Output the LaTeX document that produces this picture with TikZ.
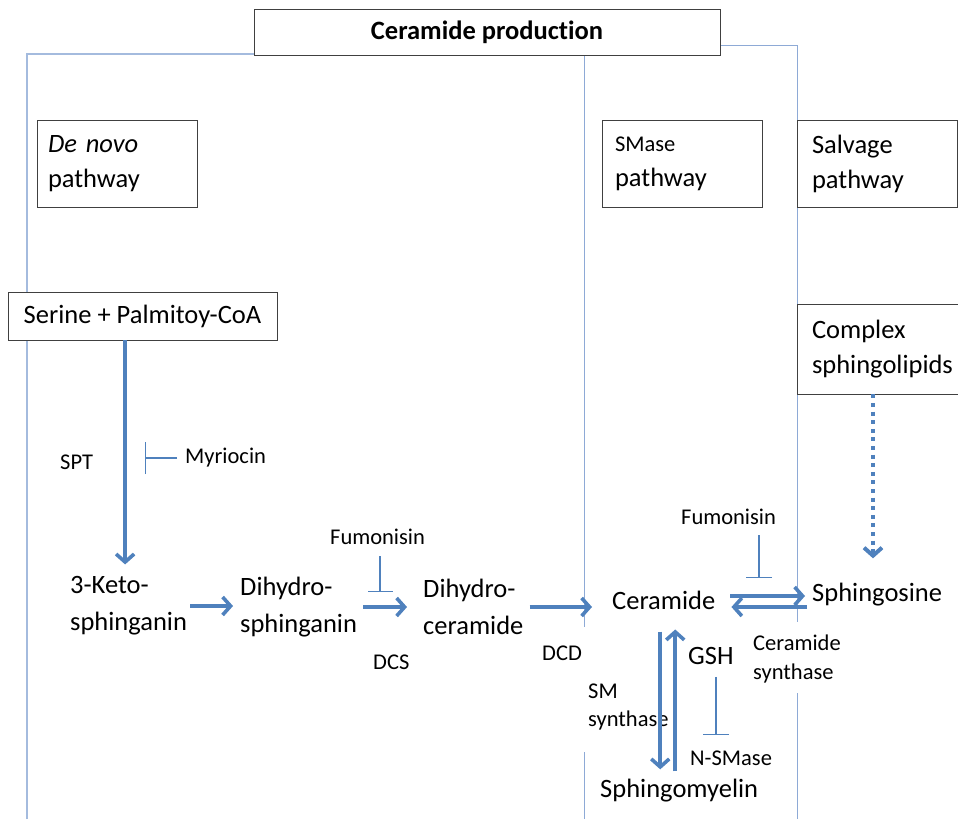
\documentclass[tikz,border=0pt]{standalone}
\usepackage{fontspec}
\setmainfont{Carlito}[Ligatures=NoCommon]
\definecolor{PathBlue}{HTML}{4F81BD}
\definecolor{FrameBlue}{HTML}{8EAAD6}
\usetikzlibrary{arrows.meta, positioning}
\newcommand{\bigtxt}{\fontsize{26.5}{37}\selectfont}
\newcommand{\smalltxt}{\fontsize{22.5}{28.5}\selectfont}

\begin{document}
\begin{tikzpicture}[
      x=1pt, y=-1pt,
      box/.style={draw=black!75, line width=0.8pt, fill=white, inner sep=0pt},
      pathbox/.style={box, minimum width=160pt, minimum height=87pt, align=left,
                      font=\fontsize{26.5}{35}\selectfont},
      txt/.style={font=\bigtxt, align=left, inner sep=0pt, anchor=west},
      lbl/.style={font=\smalltxt, align=left, inner sep=0pt, anchor=west},
      arr/.style={-{Straight Barb[length=8pt, width=18pt]}, line width=3.6pt, PathBlue},
      inh/.style={-{Bar[width=28pt]}, line width=1.3pt, PathBlue},
      frame/.style={line width=1pt, FrameBlue}
   ]
      \useasboundingbox (0,0) rectangle (958,819);

      % frame lines of the three pathways
      \draw[frame, line width=1.5pt, FrameBlue!80] (27,819) -- (27,54) -- (254,54);
      \draw[frame] (584,54) -- (584,627) (584,752) -- (584,819);
      \draw[frame] (720,45) -| (797,622) (797,693) -- (797,819);

      % boxes
      \node[box, minimum width=466pt, minimum height=46pt,
            font=\fontsize{26.5}{30}\selectfont\bfseries] (hdr) at (487,32) {Ceramide production};
      \node[pathbox, text width=139pt] (denovo) at (117.5,163.5) {\textit{De novo}\\pathway};
      \node[pathbox, text width=134pt] (smase) at (682,163.5) {{\smalltxt SMase}\\pathway};
      \node[pathbox, text width=130pt] (salv) at (877,163.5) {Salvage\\pathway};
      \node[box, minimum width=269pt, minimum height=48pt, font=\bigtxt] (ser) at (142.5,316) {Serine + Palmitoy-CoA};
      \node[pathbox, text width=145pt, minimum width=175pt, minimum height=90pt] (cplx) at (884.5,349) {Complex\\sphingolipids};

      % metabolites
      \node[txt] (keto) at (70,606) {3-Keto-\\sphinganin};
      \node[txt] (dih1) at (240,607) {Dihydro-\\sphinganin};
      \node[txt] (dih2) at (423,607) {Dihydro-\\ceramide};
      \node[txt] (cer) at (612,600) {Ceramide};
      \node[txt] (sph) at (812,595) {Sphingosine};
      \node[txt] (smy) at (600,791) {Sphingomyelin};
      \node[txt] (gsh) at (688,656) {GSH};

      % enzymes and inhibitors
      \node[lbl] (spt) at (60,462) {SPT};
      \node[lbl] (myr) at (185,458) {Myriocin};
      \node[lbl] (fum1) at (330,537) {Fumonisin};
      \node[lbl] (dcs) at (373,662) {DCS};
      \node[lbl] (dcd) at (542,653) {DCD};
      \node[lbl] (fum2) at (681,517) {Fumonisin};
      \node[lbl] (cersyn) at (753,659) {Ceramide\\synthase};
      \node[lbl] (smsyn) at (588,707) {SM\\synthase};
      \node[lbl] (nsm) at (690,758) {N-SMase};

      \coordinate (myrbar) at (145,458);
      \coordinate (fum1bar) at (380,592);
      \coordinate (fum2bar) at (759,578);
      \coordinate (nsbar) at (716,735);

      % reactions
      \draw[arr, shorten >=12pt] ([xshift=-3.5pt]keto.north |- ser.south) -- ([xshift=-3.5pt]keto.north);
      \draw[arr, shorten <=3pt, shorten >=7pt] (keto.east) -- (keto.east -| dih1.west);
      \draw[arr, shorten <=6pt, shorten >=16pt] (dih1.east) -- (dih1.east -| dih2.west);
      \draw[arr, shorten <=6pt, shorten >=20pt] (dih2.east) -- (dih2.east -| cer.west);
      \draw[arr, shorten <=15pt, shorten >=7pt] ([yshift=4pt]cer.east) -- ([yshift=4pt]cer.east -| sph.west);
      \draw[arr, shorten <=5pt, shorten >=16pt] ([yshift=-7pt]cer.east -| sph.west) -- ([yshift=-7pt]cer.east);
      \draw[arr, shorten <=22pt, shorten >=10pt] ([xshift=-3.5pt]cer.south) -- ([xshift=-3.5pt]cer.south |- smy.north);
      \draw[arr, shorten <=8pt, shorten >=20pt] ([xshift=11.5pt]cer.south |- smy.north) -- ([xshift=11.5pt]cer.south);
      \draw[arr, dash pattern=on 4pt off 4.6pt, line width=4pt, shorten >=25pt]
         ([xshift=-11.5pt]cplx.south) -- ([xshift=-11.5pt]cplx.south |- sph.north);

      % inhibition
      \draw[inh, -{Bar[width=32pt]}, shorten <=8pt] (myr.west) -- (myrbar);
      \draw[inh, -{Bar[width=25pt]}, shorten <=11pt] (fum1bar |- fum1.south) -- (fum1bar);
      \draw[inh, -{Bar[width=26pt]}, shorten <=10pt] (fum2bar |- fum2.south) -- (fum2bar);
      \draw[inh, -{Bar[width=26pt]}, shorten <=12pt] (nsbar |- gsh.south) -- (nsbar);
   \end{tikzpicture}
\end{document}
